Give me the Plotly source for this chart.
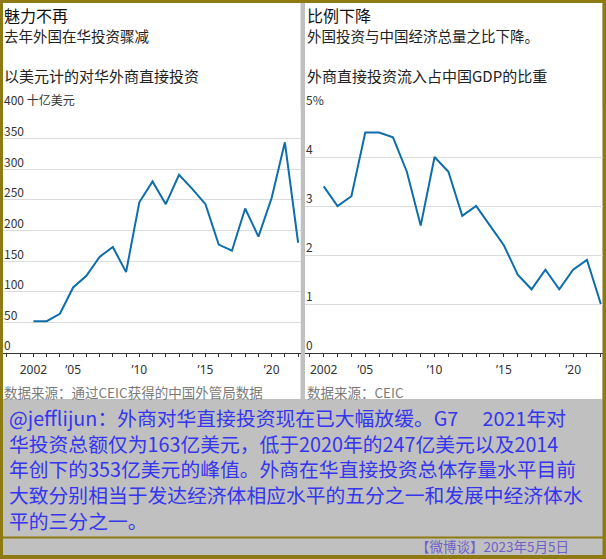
import plotly.graph_objects as go

# ---------------- data ----------------
years = list(range(2002, 2023))
fdi_bn_usd = [52, 52, 64, 107, 126, 157, 173, 132, 246, 280, 243, 291, 268, 243,
              177, 167, 236, 190, 253, 344, 180]
fdi_pct_gdp = [3.4, 3.0, 3.2, 4.5, 4.5, 4.4, 3.7, 2.6, 4.0, 3.7, 2.8, 3.0, 2.6, 2.2,
               1.6, 1.3, 1.7, 1.3, 1.7, 1.9, 1.0]

x_tick_vals = [2002, 2005, 2010, 2015, 2020]
x_tick_text = ["2002", "’05", "’10", "’15", "’20"]

left_y_vals = [0, 50, 100, 150, 200, 250, 300, 350, 400]
left_y_text = ["0", "50", "100", "150", "200", "250", "300", "350", "400 十亿美元"]
right_y_vals = [0, 1, 2, 3, 4, 5]
right_y_text = ["0", "1", "2", "3", "4", "5%"]

left_title = "魅力不再"
left_sub = "去年外国在华投资骤减"
left_desc = "以美元计的对华外商直接投资"
left_source = "数据来源：通过CEIC获得的中国外管局数据"
right_title = "比例下降"
right_sub = "外国投资与中国经济总量之比下降。"
right_desc = "外商直接投资流入占中国GDP的比重"
right_source = "数据来源：CEIC"

comment_lines = [
    "@jefflijun：外商对华直接投资现在已大幅放缓。G7　 2021年对",
    "华投资总额仅为163亿美元，低于2020年的247亿美元以及2014",
    "年创下的353亿美元的峰值。外商在华直接投资总体存量水平目前",
    "大致分别相当于发达经济体相应水平的五分之一和发展中经济体水",
    "平的三分之一。",
]
footer = "【微博谈】2023年5月5日"

# ---------------- layout helpers ----------------
W, H = 606, 559
def px(x):
    return x / W
def py(y):
    return 1 - y / H

FONT = "Noto Sans CJK SC, Noto Sans, sans-serif"
LATIN = "Noto Sans, Liberation Sans, sans-serif"
LINE = "#0e6ea9"
OLIVE = "#8d7a12"
GRAY = "#c0c0c0"

fig = go.Figure()
fig.add_trace(go.Scatter(x=years, y=fdi_bn_usd, mode="lines",
                         line=dict(color=LINE, width=2), xaxis="x", yaxis="y",
                         showlegend=False, hoverinfo="skip"))
fig.add_trace(go.Scatter(x=years, y=fdi_pct_gdp, mode="lines",
                         line=dict(color=LINE, width=2), xaxis="x2", yaxis="y2",
                         showlegend=False, hoverinfo="skip"))

ydom = [py(353), py(108)]
all_years = list(range(2000, 2024))
def xaxis(dom, rng, anchor):
    return dict(domain=dom, range=rng, anchor=anchor,
                tickmode="array", tickvals=x_tick_vals, ticktext=x_tick_text,
                ticks="outside", ticklen=3, tickwidth=1, tickcolor="#333",
                minor=dict(tickmode="array", tickvals=all_years, ticks="outside",
                           ticklen=3, tickwidth=1, tickcolor="#333", showgrid=False),
                showline=True, linecolor="#333", linewidth=1,
                showgrid=False, zeroline=False,
                tickfont=dict(family=LATIN, size=12, color="#333"),
                ticklabelstandoff=3, fixedrange=True)

def yaxis(dom, rng, anchor, vals):
    return dict(domain=dom, range=rng, anchor=anchor,
                tickmode="array", tickvals=vals, showticklabels=False,
                showgrid=True, gridcolor="#dcdcdc", gridwidth=1,
                zeroline=False, showline=False, ticks="", fixedrange=True)

shapes = []
def rect(x0, y0, x1, y1, color):
    shapes.append(dict(type="rect", xref="paper", yref="paper",
                       x0=px(x0), x1=px(x1), y0=py(y1), y1=py(y0),
                       fillcolor=color, line=dict(width=0), layer="below"))

rect(3, 3, 300.5, 399, "white")
rect(305, 3, 602.5, 399, "white")
rect(0, 0, 606, 3, OLIVE)
rect(0, 0, 3, 559, OLIVE)
rect(602.5, 0, 606, 559, OLIVE)
rect(0, 555, 606, 559, OLIVE)
rect(0, 536.5, 606, 538.5, OLIVE)

ann = []
def text(x, y, s, size, color, xanchor="left", yanchor="middle", family=FONT):
    ann.append(dict(x=px(x), y=py(y), xref="paper", yref="paper", text=s,
                    showarrow=False, xanchor=xanchor, yanchor=yanchor, borderpad=0,
                    align="left", font=dict(family=family, size=size, color=color)))

text(3, 14.5, left_title, 16, "#111")
text(3, 36, left_sub, 14.5, "#222")
text(3, 75, left_desc, 15, "#222")
text(3, 392, left_source, 13.5, "#7a7a7a")
text(306, 14.5, right_title, 16, "#111")
text(306, 36, right_sub, 14.5, "#222")
text(306, 75, right_desc, 15, "#222")
text(306, 392, right_source, 13.5, "#7a7a7a")

for v, t in zip(left_y_vals, left_y_text):
    ann.append(dict(x=px(3), y=v, xref="paper", yref="y", text=t, showarrow=False,
                    xanchor="left", yanchor="middle", yshift=8, borderpad=0,
                    font=dict(family=FONT, size=12, color="#333")))
for v, t in zip(right_y_vals, right_y_text):
    ann.append(dict(x=px(305), y=v, xref="paper", yref="y2", text=t, showarrow=False,
                    xanchor="left", yanchor="middle", yshift=8, borderpad=0,
                    font=dict(family=FONT, size=12, color="#333")))

# comment block as one multi-line text
text(8, 468.5, "<br>".join(comment_lines), 19.8, "#3535ee")
text(570, 546, footer, 13.5, "#6f5fc8", xanchor="right")

fig.update_layout(
    width=W, height=H, margin=dict(l=0, r=0, t=0, b=0),
    paper_bgcolor=GRAY, plot_bgcolor="white",
    xaxis=xaxis([px(3), px(300.5)], [1999.70, 2022.18], "y"),
    yaxis=yaxis(ydom, [0, 400], "x", left_y_vals),
    xaxis2=xaxis([px(305), px(602.5)], [2000.65, 2022.12], "y2"),
    yaxis2=yaxis(ydom, [0, 5], "x2", right_y_vals),
    shapes=shapes, annotations=ann, showlegend=False,
)

fig.write_html("out.html")
